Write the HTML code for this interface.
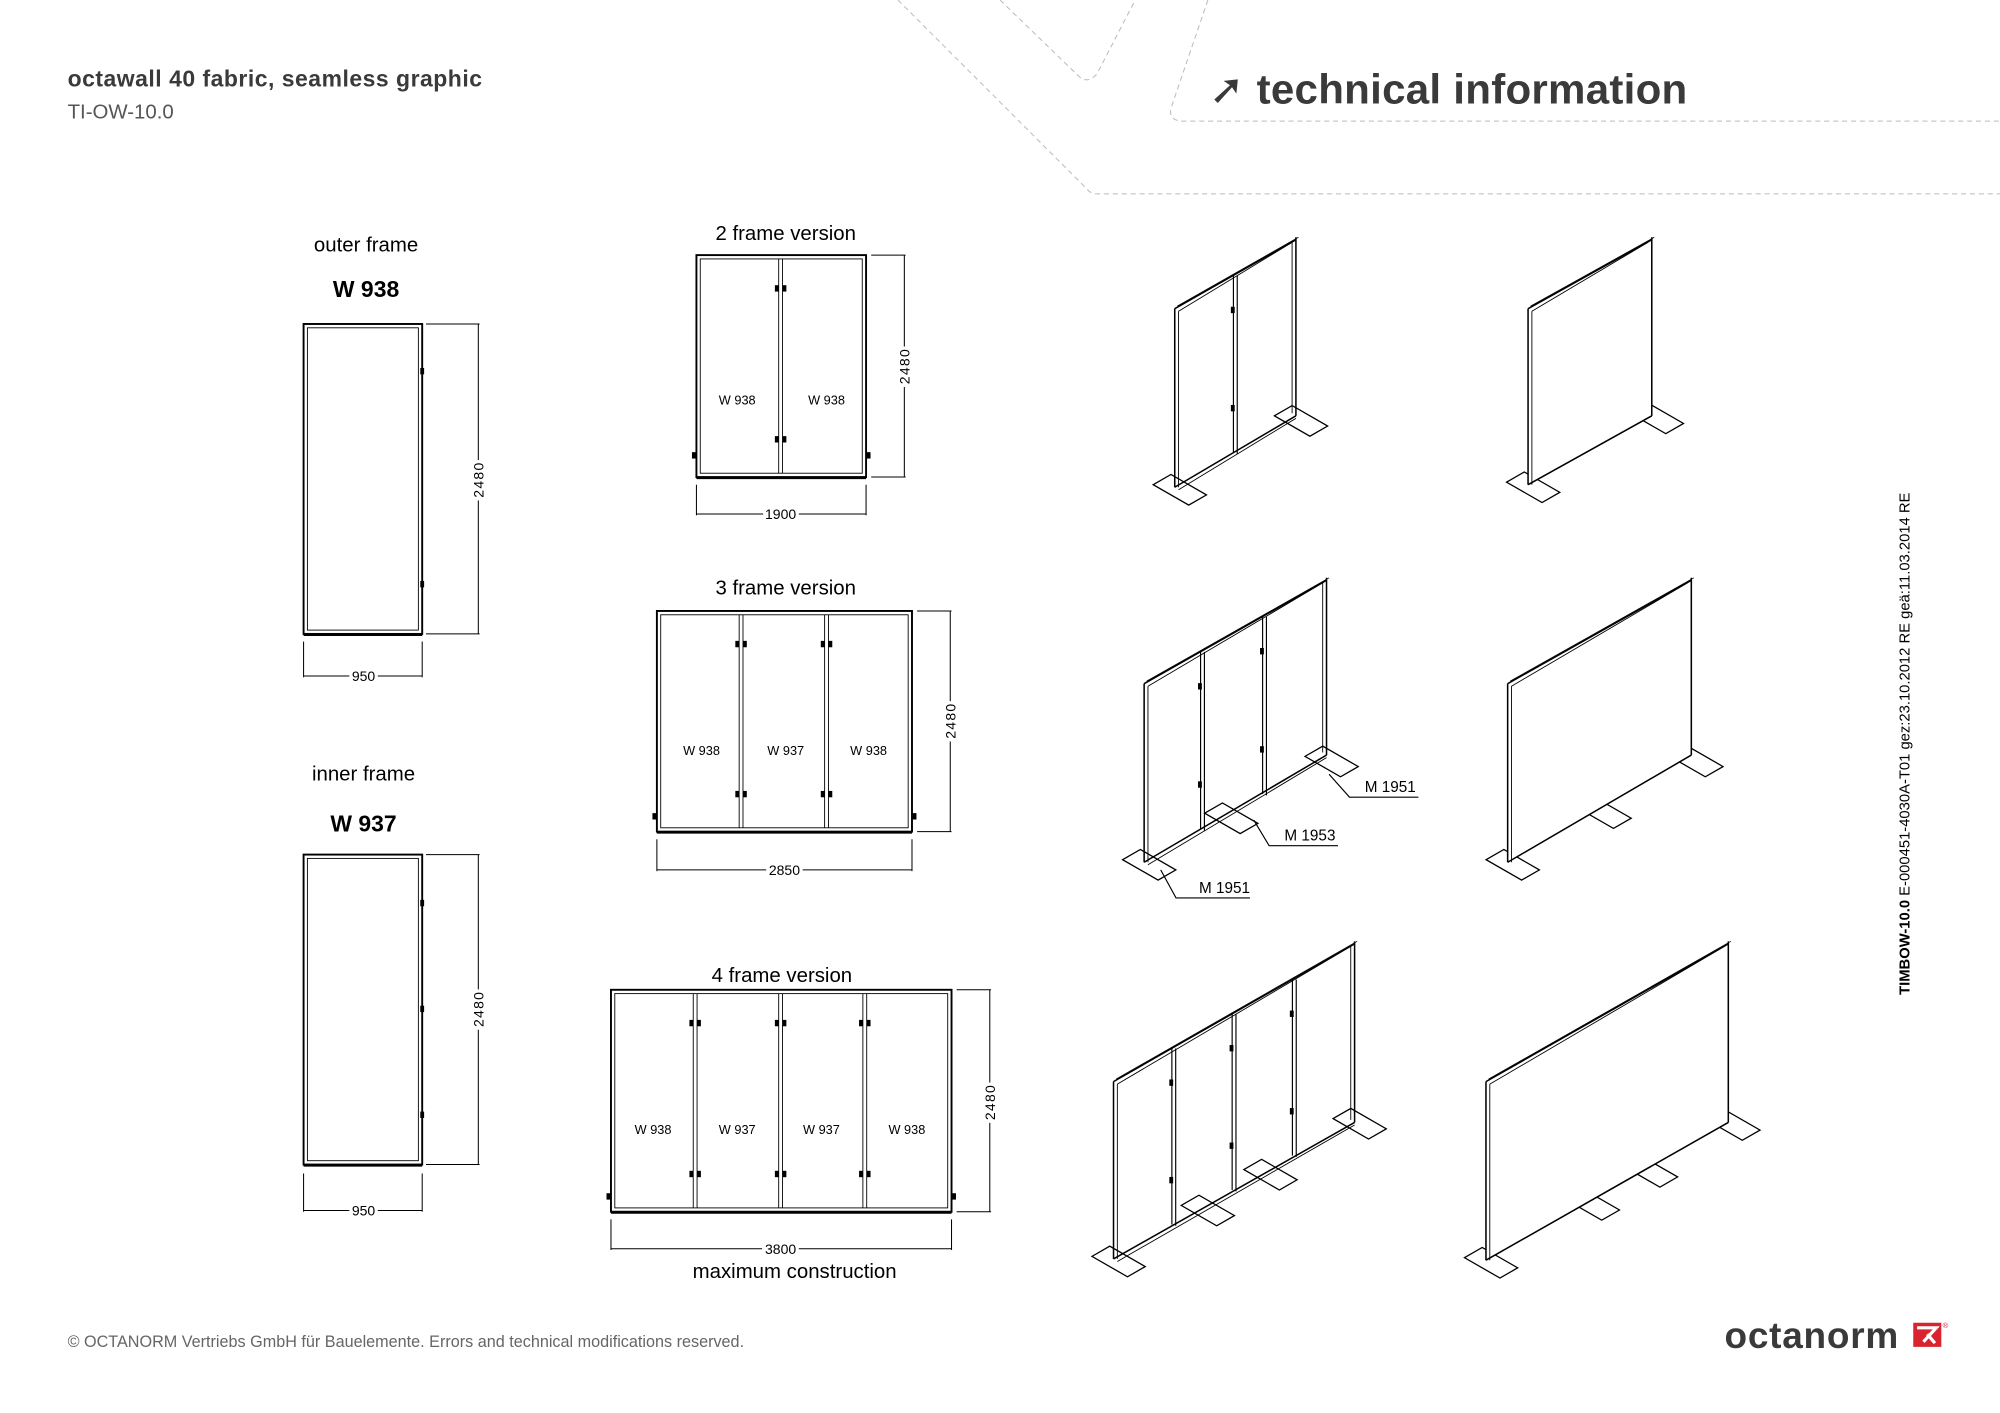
<!DOCTYPE html>
<html><head><meta charset="utf-8">
<style>
html,body{margin:0;padding:0;background:#fff;}
svg{display:block;}
text{font-family:"Liberation Sans","DejaVu Sans",sans-serif;}
.d{font-family:"DejaVu Sans Condensed","DejaVu Sans","Liberation Sans",sans-serif;}
.m{paint-order:stroke;stroke:#fff;stroke-width:5px;}
</style></head>
<body>
<svg id="s" width="2000" height="1413" viewBox="0 0 1568 1107.8" xmlns="http://www.w3.org/2000/svg">
<g fill="none" stroke="#bbb" stroke-width="0.8" stroke-dasharray="4 3">
<path d="M704 0 L852 148 Q855 152 860 152 L1568 152" />
<path d="M784 0 L846 60 Q853 66 860 58 L890 0" />
<path d="M947 0 L918 85 Q916 95 928 95 L1568 95" />
</g>
<text x="53" y="68" font-size="18" font-weight="bold" fill="#3a3a3a" letter-spacing="0.4">octawall 40 fabric, seamless graphic</text>
<text x="53" y="93" font-size="16" fill="#555">TI-OW-10.0</text>
<text x="948" y="81" font-size="33" font-weight="bold" fill="#3a3a3a" letter-spacing="0.2">➚ technical information</text>

<g id="fr" stroke="#000" fill="none" stroke-width="1"></g>

<g class="d" font-size="16" text-anchor="middle" fill="#000">
<text x="287" y="197">outer frame</text>
<text x="287" y="233" font-weight="bold" font-size="18">W 938</text>
<text x="285" y="612">inner frame</text>
<text x="285" y="652" font-weight="bold" font-size="18">W 937</text>
<text x="616" y="188">2 frame version</text>
<text x="616" y="466">3 frame version</text>
<text x="613" y="770">4 frame version</text>
<text x="623" y="1002">maximum construction</text>
</g>
<g class="d" font-size="10" text-anchor="middle" fill="#000">
<text x="578" y="317">W 938</text><text x="648" y="317">W 938</text>
<text x="550" y="592">W 938</text><text x="616" y="592">W 937</text><text x="681" y="592">W 938</text>
<text x="512" y="889">W 938</text><text x="578" y="889">W 937</text><text x="644" y="889">W 937</text><text x="711" y="889">W 938</text>
<g font-size="11">
<text class="m" x="285" y="534">950</text>
<text class="m" x="285" y="953">950</text>
<text class="m" x="612" y="407">1900</text>
<text class="m" x="615" y="686">2850</text>
<text class="m" x="612" y="983">3800</text>
<text class="m" transform="translate(379,376) rotate(-90)" letter-spacing="1">2480</text>
<text class="m" transform="translate(379,791) rotate(-90)" letter-spacing="1">2480</text>
<text class="m" transform="translate(713,287) rotate(-90)" letter-spacing="1">2480</text>
<text class="m" transform="translate(749,565) rotate(-90)" letter-spacing="1">2480</text>
<text class="m" transform="translate(780,864) rotate(-90)" letter-spacing="1">2480</text>
</g>
<text x="1090" y="621" font-size="12">M 1951</text>
<text x="1027" y="659" font-size="12">M 1953</text>
<text x="960" y="700" font-size="12">M 1951</text>
</g>
<text transform="translate(1497,780) rotate(-90)" font-size="11.6" fill="#000" font-family="DejaVu Sans, sans-serif"><tspan font-weight="bold">TIMBOW-10.0</tspan>  E-000451-4030A-T01 gez:23.10.2012 RE geä:11.03.2014 RE</text>

<text x="53" y="1056" font-size="12.7" fill="#666">© OCTANORM Vertriebs GmbH für Bauelemente. Errors and technical modifications reserved.</text>
<text x="1352" y="1057" font-size="29" font-weight="bold" fill="#3a3a3a" letter-spacing="0.6">octanorm</text>
<path d="M1500 1037 L1522 1037 L1522 1056 L1500 1056 Z" fill="#d9232e"/>
<path d="M1503 1041 L1518 1041 L1508 1052 M1511 1046 L1517 1053" stroke="#fff" stroke-width="2.5" fill="none"/>
<text x="1523" y="1041" font-size="6" fill="#d9232e">®</text>
</svg>
<script>
var g=document.getElementById('fr'),NS='http://www.w3.org/2000/svg';
function el(t,a){var e=document.createElementNS(NS,t);for(var k in a)e.setAttribute(k,a[k]);g.appendChild(e);return e;}
function L(x1,y1,x2,y2,w){el('line',{x1:x1,y1:y1,x2:x2,y2:y2,'stroke-width':w||1});}
function R(x,y,w,h,sw){el('rect',{x:x,y:y,width:w,height:h,'stroke-width':sw||1});}
function pin(x,y){el('rect',{x:x-1.5,y:y-2.5,width:3,height:5,fill:'#000',stroke:'none'});}
function front(x1,y1,x2,y2,divs){
 R(x1,y1,x2-x1,y2-y1,1.5);R(x1+3,y1+3,x2-x1-6,y2-y1-6,0.7);
 divs.forEach(function(d){L(d-1.5,y1+3,d-1.5,y2-3,0.7);L(d+1.5,y1+3,d+1.5,y2-3,0.7);pin(d-3,y1+(y2-y1)*0.15);pin(d+3,y1+(y2-y1)*0.15);pin(d-3,y1+(y2-y1)*0.83);pin(d+3,y1+(y2-y1)*0.83);});
 L(x1,y2+1,x2,y2+1,1.2);
}
function vdim(x,y1,y2,ex){L(x,y1,x,y2,0.8);L(ex,y1,x+1,y1,0.8);L(ex,y2,x+1,y2,0.8);}
function hdim(y,x1,x2,ey){L(x1,y,x2,y,0.8);L(x1,ey,x1,y+1,0.8);L(x2,ey,x2,y+1,0.8);}
front(238,254,331,497,[]);pin(331,291);pin(331,458);vdim(375,254,497,334);hdim(530,238,331,503);
front(238,670,331,913,[]);pin(331,708);pin(331,791);pin(331,874);vdim(375,670,913,334);hdim(949,238,331,920);
front(546,200,679,374,[612]);pin(544,357);pin(681,357);vdim(709,200,374,683);hdim(403,546,679,380);
front(515,479,715,652,[581,648]);pin(513,640);pin(717,640);vdim(745,479,652,719);hdim(682,515,715,658);
front(479,776,746,950,[545,612,678]);pin(477,938);pin(748,938);vdim(776,776,950,750);hdim(979,479,746,956);
function foot(x,y){var a=8,b=16,u=[0.87,-0.5],v=[0.87,0.5];
 var p=[[-a,-b],[a,-b],[a,b],[-a,b]].map(function(q){return (x+q[0]*u[0]+q[1]*v[0]+4)+','+(y+q[0]*u[1]+q[1]*v[1]+2);}).join(' ');
 el('polygon',{points:p,fill:'#fff','stroke-width':1});}
function wall(xl,ytl,ybl,xr,ytr,ybr,divs,feet,solid){
 var s=(ytr-ytl)/(xr-xl);
 feet.forEach(function(f){var x=xl+f*(xr-xl);foot(x,ybl+(x-xl)*s);});
 if(solid) el('polygon',{points:xl+','+ytl+' '+xr+','+ytr+' '+xr+','+ybr+' '+xl+','+ybl,fill:'#fff',stroke:'none'});
 L(xl,ytl,xr,ytr,1.2);L(xl+3,ytl+2,xr-3,ytr+2,0.7);L(xl+2,ytl-2,xr+2,ytr-2,0.6);
 L(xl,ytl,xl,ybl,1.2);L(xl+3,ytl+2,xl+3,ybl,0.7);
 L(xr,ytr-2,xr,ybr,1.2);if(!solid)L(xr-3,ytr+2,xr-3,ybr-2,0.7);
 L(xl,ybl,xr,ybr,1.2);if(!solid)L(xl+3,ybl+2,xr,ybr+2,0.7);
 divs.forEach(function(d){var x=xl+d*(xr-xl),t=ytl+(x-xl)*s,b=ybl+(x-xl)*s;L(x-1.5,t,x-1.5,b,0.9);L(x+1.5,t+1,x+1.5,b+1,0.9);pin(x-2,t+(b-t)*0.2);pin(x-2,b-(b-t)*0.25);});
}
wall(921,242,382,1016,188,326,[0.5],[0,1],false);
wall(1198,242,380,1295,188,326,[],[0,1],true);
wall(897,536,676,1040,455,592,[0.32,0.66],[0,0.45,1],false);
wall(1182,536,676,1326,455,592,[],[0,0.5,1],true);
wall(873,848,987,1062,740,880,[0.25,0.5,0.75],[0,0.37,0.63,1],false);
wall(1165,848,988,1355,740,880,[],[0,0.42,0.66,1],true);
function lead(x1,y1,x2,y2,x3){el('polyline',{points:x1+','+y1+' '+x2+','+y2+' '+x3+','+y2,'stroke-width':0.9});}
lead(1042,607,1058,625,1112);lead(983,643,995,663,1049);lead(910,682,922,704,980);
</script>
</body></html>
